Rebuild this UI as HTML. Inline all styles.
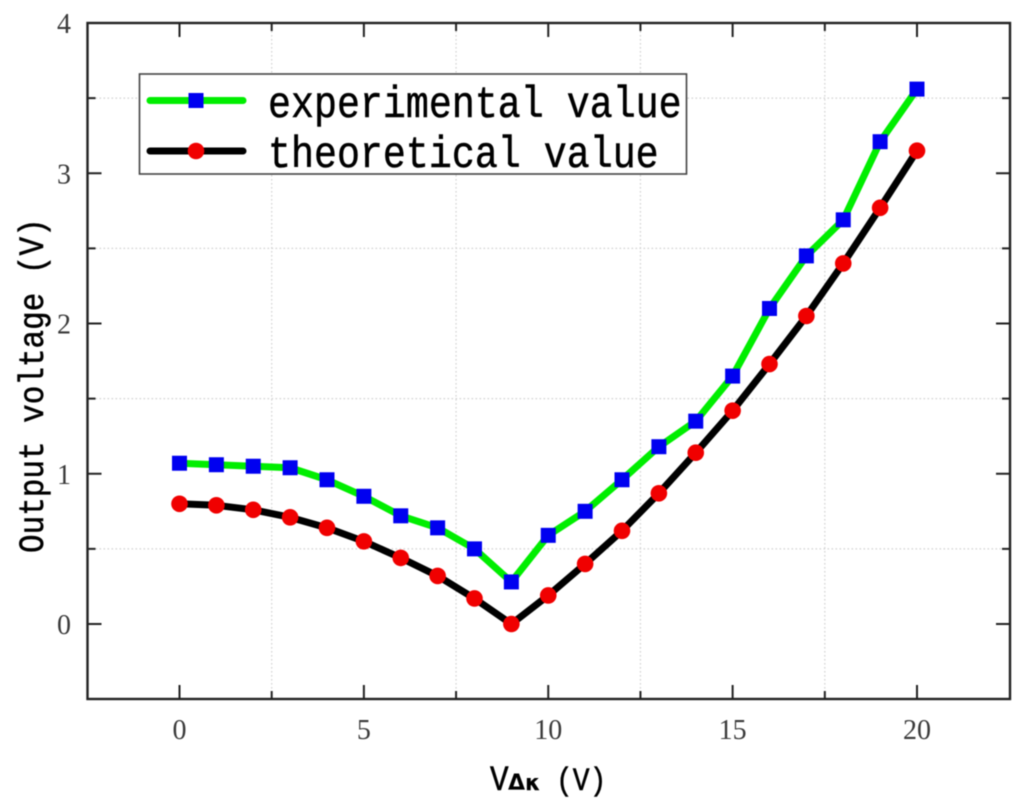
<!DOCTYPE html>
<html lang="en">
<head>
<meta charset="utf-8">
<title>Output voltage chart</title>
<style>
html,body{margin:0;padding:0;background:#fff;width:1024px;height:805px;overflow:hidden}
svg{display:block;filter:blur(0.45px)}
.tick-label{font-family:"Liberation Serif",serif;font-size:28px;fill:#3a3a3a}
.mono{font-family:"Liberation Mono",monospace;fill:#000;stroke:#000;stroke-width:0.45px}
</style>
</head>
<body>
<svg id="chart" width="1024" height="805" viewBox="0 0 1024 805" xmlns="http://www.w3.org/2000/svg">
  <rect x="0" y="0" width="1024" height="805" fill="#fff"/>
  <g id="grid"></g>
  <g id="ticks"></g>
  <rect x="87.5" y="23" width="922.5" height="676" fill="none" stroke="#222" stroke-width="2.4"/>
  <g id="tick-labels"></g>
  <g id="series"></g>

  <g>
    <rect x="139.5" y="74" width="547" height="100" fill="#fff" stroke="#444" stroke-width="1.6"/>
    <line x1="150" y1="100.5" x2="243" y2="100.5" stroke="#00ee00" stroke-width="7" stroke-linecap="round"/>
    <rect x="188.5" y="93" width="15" height="15" fill="#0000f0"/>
    <line x1="150" y1="151" x2="243" y2="151" stroke="#000" stroke-width="7" stroke-linecap="round"/>
    <circle cx="196" cy="151" r="8.3" fill="#f00000"/>
    <text class="mono" transform="translate(268 117) scale(1 1.15)" font-size="38.3">experimental value</text>
    <text class="mono" transform="translate(268 167) scale(1 1.15)" font-size="38.3">theoretical value</text>
  </g>

  <text class="mono" transform="translate(43 553) rotate(-90) scale(1 1.15)" font-size="31">Output voltage (V)</text>
  <g>
    <text class="mono" transform="translate(490 790) scale(1 1.15)" font-size="31">V</text>
    <text x="508" y="790" font-family="'DejaVu Sans',sans-serif" font-weight="bold" font-size="22" fill="#000">Δκ</text>
    <text class="mono" transform="translate(556 790) scale(1 1.15)" font-size="28">(V)</text>
  </g>
</svg>
<script>
const categories = [0,1,2,3,4,5,6,7,8,9,10,11,12,13,14,15,16,17,18,19,20];
const experimentalValues = [1.07,1.06,1.05,1.04,0.96,0.85,0.72,0.64,0.50,0.28,0.59,0.75,0.96,1.18,1.35,1.65,2.10,2.45,2.69,3.21,3.56];
const theoreticalValues = [0.80,0.79,0.76,0.71,0.64,0.55,0.44,0.32,0.17,0.00,0.19,0.40,0.62,0.87,1.14,1.42,1.73,2.05,2.40,2.77,3.15];
const xTickLabels = [0,5,10,15,20];
const yTickLabels = [0,1,2,3,4];
const xMinorTicks = [2.5,7.5,12.5,17.5];
const yMinorTicks = [0.5,1.5,2.5,3.5];

const NS = 'http://www.w3.org/2000/svg';
const xAxis = v => 179.5 + (v - 0) * (917 - 179.5) / 20;
const yAxis = v => 624 - v * (624 - 23) / 4;
const PLOT = {l: 87.5, r: 1010, t: 23, b: 699};

function make(tag, attrs, parent) {
  const el = document.createElementNS(NS, tag);
  for (const k in attrs) el.setAttribute(k, attrs[k]);
  parent.appendChild(el);
  return el;
}
const gridG = document.getElementById('grid');
const ticksG = document.getElementById('ticks');
const labelsG = document.getElementById('tick-labels');
const seriesG = document.getElementById('series');

const gridStyle = {stroke:'#d2d2d2','stroke-width':1.2,'stroke-dasharray':'1.6 2.4',fill:'none'};
xMinorTicks.forEach(v => {
  const el = make('line', Object.assign({x1:xAxis(v),x2:xAxis(v),y1:PLOT.t,y2:PLOT.b}, gridStyle), gridG);
  
  
});
yMinorTicks.forEach(v => {
  const el = make('line', Object.assign({x1:PLOT.l,x2:PLOT.r,y1:yAxis(v),y2:yAxis(v)}, gridStyle), gridG);
  
  
});

const tickStyle = {stroke:'#222','stroke-width':2};
function xTick(v, len) {
  const a = make('line', Object.assign({x1:xAxis(v),x2:xAxis(v),y1:PLOT.b,y2:PLOT.b-len}, tickStyle), ticksG);
  
  
  const b = make('line', Object.assign({x1:xAxis(v),x2:xAxis(v),y1:PLOT.t,y2:PLOT.t+len}, tickStyle), ticksG);
  
  
}
function yTick(v, len) {
  const a = make('line', Object.assign({x1:PLOT.l,x2:PLOT.l+len,y1:yAxis(v),y2:yAxis(v)}, tickStyle), ticksG);
  
  
  const b = make('line', Object.assign({x1:PLOT.r,x2:PLOT.r-len,y1:yAxis(v),y2:yAxis(v)}, tickStyle), ticksG);
  
  
}
xTickLabels.forEach(v => xTick(v, 14));
xMinorTicks.forEach(v => xTick(v, 8));
yTickLabels.forEach(v => { if (v < 4) yTick(v, 14); });
yMinorTicks.forEach(v => yTick(v, 8));

xTickLabels.forEach(v => {
  const t = make('text', {x:xAxis(v),y:739,'text-anchor':'middle',class:'tick-label'}, labelsG);
  
  
  t.textContent = v;
});
yTickLabels.forEach(v => {
  const t = make('text', {x:71,y:yAxis(v)+10,'text-anchor':'end',class:'tick-label'}, labelsG);
  
  
  t.textContent = v;
});

function points(values) {
  return categories.map((c, i) => xAxis(c) + ',' + yAxis(values[i])).join(' ');
}
const expLine = make('polyline', {points:points(experimentalValues),fill:'none',stroke:'#00ee00','stroke-width':7,'stroke-linejoin':'round'}, seriesG);


const theoLine = make('polyline', {points:points(theoreticalValues),fill:'none',stroke:'#000','stroke-width':7,'stroke-linejoin':'round'}, seriesG);



categories.forEach((c, i) => {
  const s = make('rect', {x:xAxis(c)-7.5,y:yAxis(experimentalValues[i])-7.5,width:15,height:15,fill:'#0000f0'}, seriesG);
  
  
});
categories.forEach((c, i) => {
  const p = make('circle', {cx:xAxis(c),cy:yAxis(theoreticalValues[i]),r:8.3,fill:'#f00000'}, seriesG);
  
  
});
</script>
</body>
</html>
